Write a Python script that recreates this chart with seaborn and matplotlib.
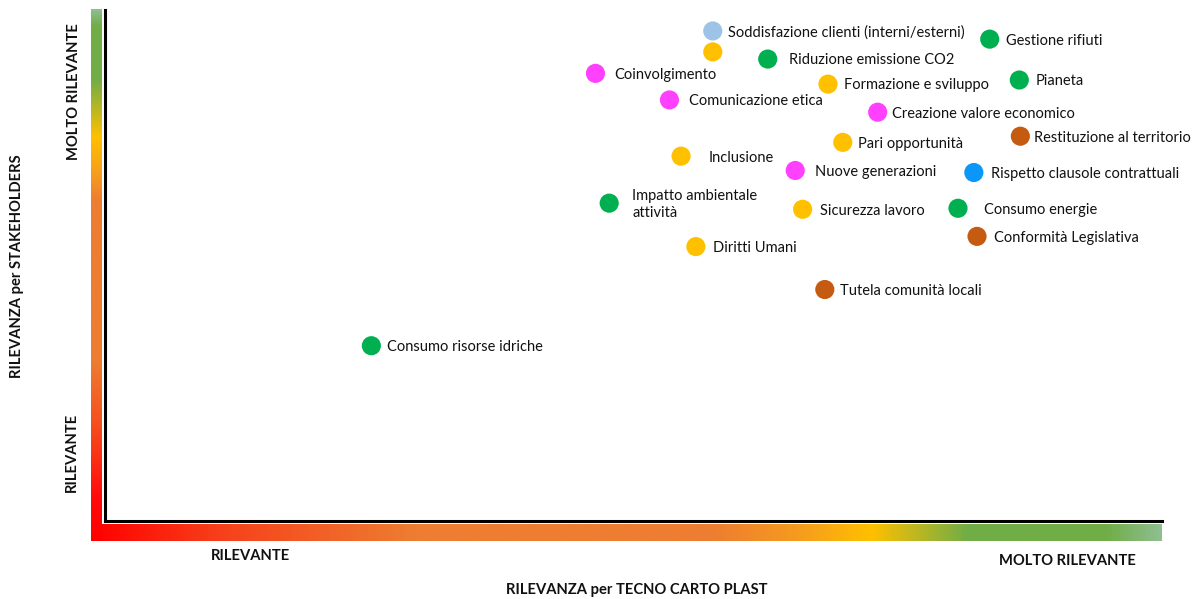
import numpy as np
import pandas as pd
import matplotlib
matplotlib.use("Agg")
import matplotlib.pyplot as plt
from matplotlib.colors import LinearSegmentedColormap
import seaborn as sns

sns.set_theme(style="white")
plt.rcParams["font.family"] = ["Lato", "DejaVu Sans"]

# ── data (0-10 relevance scales) ─────────────────────────────────
labels = ["Soddisfazione clienti (interni/esterni)", "", "Riduzione emissione CO2",
          "Coinvolgimento", "Gestione rifiuti", "Pianeta", "Formazione e sviluppo",
          "Comunicazione etica", "Creazione valore economico", "Restituzione al territorio",
          "Pari opportunità", "Inclusione", "Nuove generazioni",
          "Rispetto clausole contrattuali", "Impatto ambientale\nattività",
          "Sicurezza lavoro", "Consumo energie", "Conformità Legislativa",
          "Diritti Umani", "Tutela comunità locali", "Consumo risorse idriche"]
rel_company = [5.75, 5.75, 6.27, 4.64, 8.37, 8.65, 6.84, 5.34, 7.31, 8.66,
               6.98, 5.45, 6.53, 8.22, 4.77, 6.60, 8.07, 8.25, 5.59, 6.81, 2.52]
rel_stakeholders = [9.59, 9.18, 9.04, 8.76, 9.43, 8.63, 8.55, 8.24, 8.00, 7.53,
                    7.41, 7.14, 6.86, 6.82, 6.22, 6.10, 6.12, 5.57, 5.37, 4.53, 3.43]
area = ["clienti", "persone", "ambiente", "sociale", "ambiente", "ambiente", "persone",
        "sociale", "sociale", "territorio", "persone", "persone", "sociale",
        "contratti", "ambiente", "persone", "ambiente", "territorio", "persone",
        "territorio", "ambiente"]

area_colors = {"clienti": "#9DC3E6", "persone": "#FFC000", "ambiente": "#00B050",
               "sociale": "#FF40FF", "territorio": "#C55A11", "contratti": "#0B97FA"}

# label gap from point centre, in pixels
label_dx = [15, 15, 21, 19, 16, 16, 16, 20, 14, 14, 15, 28, 20, 17, 23, 17, 26, 17, 17, 15, 16]

df = pd.DataFrame({"label": labels, "x": rel_company, "y": rel_stakeholders, "area": area})

# ── figure ───────────────────────────────────────────────────────
W, H = 1197, 599
fig = plt.figure(figsize=(W / 100, H / 100), dpi=100)
fig.patch.set_facecolor("white")

def px_axes(x0, y0, x1, y1):
    return fig.add_axes([x0 / W, 1 - y1 / H, (x1 - x0) / W, (y1 - y0) / H])

grad_h = LinearSegmentedColormap.from_list("rel_h", [
    (0.00, "#FF0000"), (0.12, "#F7401B"), (0.30, "#ED7D31"), (0.58, "#ED7D31"),
    (0.66, "#F59B1F"), (0.73, "#FFC000"), (0.82, "#70AD47"), (0.95, "#70AD47"),
    (1.00, "#8FBE8F")])
grad_v = LinearSegmentedColormap.from_list("rel_v", [
    (0.00, "#FF0000"), (0.08, "#FF0A0A"), (0.22, "#F5501E"), (0.34, "#ED7D31"),
    (0.64, "#ED7D31"), (0.70, "#F8A21A"), (0.76, "#FFC000"), (0.87, "#70AD47"),
    (0.97, "#70AD47"), (1.00, "#8FBE8F")])
ramp = np.linspace(0, 1, 512)

hbar = px_axes(91, 524, 1162, 541)
hbar.imshow(ramp[np.newaxis, :], aspect="auto", cmap=grad_h)
hbar.set_axis_off()

vbar = px_axes(91, 9, 102, 541)
vbar.imshow(ramp[::-1, np.newaxis], aspect="auto", cmap=grad_v)
vbar.set_axis_off()

ax = px_axes(105, 10, 1162, 521)
ax.set_facecolor("none")
sns.scatterplot(data=df, x="x", y="y", hue="area", palette=area_colors,
                s=190, edgecolor="none", legend=False, ax=ax, zorder=3)
for lab, xv, yv, dx in zip(labels, rel_company, rel_stakeholders, label_dx):
    if lab:
        ax.annotate(lab, (xv, yv), xytext=(dx * 0.72, -1), textcoords="offset points",
                    va="center", ha="left", fontsize=10.5, color="#111111",
                    linespacing=1.25)

ax.set_xlim(0, 10)
ax.set_ylim(0, 10)
ax.set_xticks([]); ax.set_yticks([])
ax.set_xlabel(""); ax.set_ylabel("")
for s in ["top", "right"]:
    ax.spines[s].set_visible(False)
for s in ["left", "bottom"]:
    ax.spines[s].set_color("black")
    ax.spines[s].set_linewidth(2.2)

# ── scale labels & titles ────────────────────────────────────────
bold = dict(fontweight="bold", color="#111111", fontsize=10.6)
fig.text(250 / W, 1 - 556 / H, "RILEVANTE", ha="center", va="center", **bold)
fig.text(1067 / W, 1 - 561 / H, "MOLTO RILEVANTE", ha="center", va="center", **bold)
fig.text(637 / W, 1 - 590 / H, "RILEVANZA per TECNO CARTO PLAST", ha="center", va="center",
         **bold)
fig.text(74 / W, 1 - 92 / H, "MOLTO RILEVANTE", ha="center", va="center", rotation=90,
         **bold)
fig.text(72 / W, 1 - 452 / H, "RILEVANTE", ha="center", va="center", rotation=90,
         **bold)
fig.text(17 / W, 1 - 266 / H, "RILEVANZA per STAKEHOLDERS", ha="center", va="center",
         rotation=90, **bold)

fig.savefig("out.png", dpi=100, facecolor="white")
plt.close(fig)
